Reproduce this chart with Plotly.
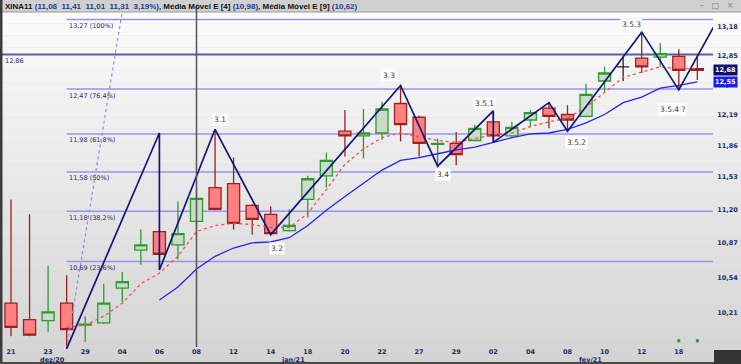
import math
import plotly.graph_objects as go

# ---------------- data ----------------
days = ["21", "22", "23", "28", "29", "30", "04", "05", "06", "07", "08", "11", "12", "13",
        "14", "15", "18", "19", "20", "21", "22", "26", "27", "28", "29", "01", "02", "03",
        "04", "05", "08", "09", "10", "11", "12", "17", "18", "19"]
opens = [10.30, 10.15, 10.14, 10.30, 10.10, 10.12, 10.44, 10.80, 10.98, 10.85, 11.08, 11.42, 11.46,
         11.24, 11.15, 10.99, 11.30, 11.54, 12.01, 11.96, 11.99, 12.31, 12.16, 11.87, 11.88, 11.91,
         12.11, 11.96, 12.13, 12.26, 12.19, 12.17, 12.56, 12.72, 12.82, 12.83, 12.84, 12.70]
highs = [11.30, 11.15, 10.65, 10.56, 10.18, 10.48, 10.59, 11.00, 10.99, 11.28, 11.41, 12.03, 11.73,
         11.25, 11.23, 11.20, 11.54, 11.78, 12.24, 12.25, 12.33, 12.51, 12.18, 11.93, 12.00, 12.08,
         12.23, 12.11, 12.24, 12.32, 12.29, 12.53, 12.72, 12.84, 13.12, 12.99, 12.92, 12.86]
lows = [10.00, 10.00, 10.04, 9.89, 9.95, 10.11, 10.31, 10.66, 10.75, 10.71, 11.01, 11.19, 11.00,
        10.95, 10.95, 10.98, 11.12, 11.42, 11.74, 11.72, 11.92, 11.90, 11.74, 11.64, 11.65, 11.90,
        11.89, 11.95, 12.05, 12.04, 12.03, 12.16, 12.44, 12.56, 12.65, 12.72, 12.46, 12.57]
closes = [10.08, 10.01, 10.22, 10.06, 10.11, 10.30, 10.50, 10.85, 10.76, 10.96, 11.31, 11.20, 11.06,
          11.10, 10.96, 11.04, 11.51, 11.70, 11.96, 11.99, 12.25, 12.08, 11.88, 11.88, 11.76, 12.04,
          11.96, 12.05, 12.21, 12.17, 12.13, 12.41, 12.65, 12.72, 12.72, 12.87, 12.68, 12.68]

mme4_start = 3
mme4 = [10.08, 10.10, 10.18, 10.30, 10.48, 10.58, 10.74, 10.98, 11.04, 11.06, 11.05, 11.02, 11.02,
        11.16, 11.40, 11.66, 11.82, 11.94, 11.99, 11.95, 11.91, 11.89, 11.93, 11.97, 11.99, 12.06,
        12.11, 12.15, 12.27, 12.43, 12.60, 12.66, 12.72, 12.70, 12.70]
mme9_start = 8
mme9 = [10.33, 10.45, 10.62, 10.74, 10.82, 10.87, 10.88, 10.92, 11.04, 11.19, 11.33, 11.46, 11.60,
        11.70, 11.73, 11.77, 11.81, 11.84, 11.89, 11.94, 11.98, 11.99, 12.03, 12.10, 12.19, 12.32,
        12.38, 12.48, 12.51, 12.55]

wave_x = [3, 8, 8, 11, 14, 21, 23, 26, 26, 29, 30, 34, 36, 38.5]
wave_y = [9.89, 11.99, 10.61, 12.03, 10.95, 12.51, 11.64, 12.23, 11.89, 12.32, 12.01, 13.12, 12.46, 13.43]
wave_labels = ["3.1", "3.2", "3.3", "3.4", "3.5.1", "3.5.2", "3.5.3", "3.5.4 ?"]
wave_label_vertex = [3, 4, 5, 6, 7, 10, 11, 12]

fib_trend_x = [3, 6.1]
fib_trend_y = [9.89, 13.50]
fib_levels = [13.27, 12.47, 11.98, 11.58, 11.18, 10.69]
fib_texts = ["13,27 (100%)", "12,47 (76,4%)", "11,98 (61,8%)", "11,58 (50%)", "11,18 (38,2%)", "10,69 (23,6%)"]
fib_start = 3
resistance = 12.86
cursor_idx = 10

ytick_vals = [10.21, 10.54, 10.87, 11.20, 11.53, 11.86, 12.19, 12.52, 12.85, 13.18]
months = ["dez/20", "jan/21", "fev/21"]
month_pos = [2, 15, 31]
signal_x = [36, 37]
signal_y = [9.96, 9.96]

# ---------------- helpers ----------------
def br(v):
    return f"{v:.2f}".replace(".", ",")

n = len(days)
idx = list(range(n))
W, H = 741, 364
L, R, T, B = 3, 28, 12, 6
pw, ph = W - L - R, H - T - B

def px(xp):
    return (xp - L) / pw

def py(yp):
    return (H - B - yp) / ph

NAVY_TXT = "#1c2a6a"
fig = go.Figure()

norm = [i for i in idx if opens[i] != closes[i]]
doji = [i for i in idx if opens[i] == closes[i]]
fig.add_trace(go.Candlestick(
    x=norm, open=[opens[i] for i in norm], high=[highs[i] for i in norm],
    low=[lows[i] for i in norm], close=[closes[i] for i in norm],
    increasing=dict(fillcolor="#c9dcc9", line=dict(color="#2f9a2f", width=1.3)),
    decreasing=dict(fillcolor="#ff8080", line=dict(color="#9c2222", width=1.3)),
    whiskerwidth=0, showlegend=False, hoverinfo="skip"))
fig.add_trace(go.Candlestick(
    x=doji, open=[opens[i] for i in doji], high=[highs[i] for i in doji],
    low=[lows[i] for i in doji], close=[closes[i] for i in doji],
    increasing=dict(fillcolor="#222222", line=dict(color="#222222", width=1.3)),
    decreasing=dict(fillcolor="#222222", line=dict(color="#222222", width=1.3)),
    whiskerwidth=0, showlegend=False, hoverinfo="skip"))

fig.add_trace(go.Scatter(x=list(range(mme4_start, mme4_start + len(mme4))), y=mme4, mode="lines",
                         line=dict(color="#ff4a4a", width=1.3, dash="dot"), showlegend=False, hoverinfo="skip"))
fig.add_trace(go.Scatter(x=list(range(mme9_start, mme9_start + len(mme9))), y=mme9, mode="lines",
                         line=dict(color="#2424f0", width=1.3), showlegend=False, hoverinfo="skip"))
fig.add_trace(go.Scatter(x=fib_trend_x, y=fib_trend_y, mode="lines",
                         line=dict(color="#8a8af0", width=1.2, dash="dot"), showlegend=False, hoverinfo="skip"))
fig.add_trace(go.Scatter(x=wave_x, y=wave_y, mode="lines",
                         line=dict(color="#14147a", width=1.7), showlegend=False, hoverinfo="skip"))
fig.add_trace(go.Scatter(x=signal_x, y=signal_y, mode="markers",
                         marker=dict(color="#2a9a2a", size=3, symbol="square"), showlegend=False, hoverinfo="skip"))

shapes = []
nb = 30
top_y, bot_y = 1.0, py(H)
for k in range(nb):
    t = k / (nb - 1)
    c = int(round(251 - t * (251 - 212)))
    y1 = top_y - (top_y - bot_y) * k / nb
    y0 = top_y - (top_y - bot_y) * (k + 1) / nb
    shapes.append(dict(type="rect", xref="paper", yref="paper", x0=px(0), x1=px(W), y0=y0, y1=y1,
                       fillcolor=f"rgb({c},{c},{c})", line=dict(width=0), layer="below"))
shapes.append(dict(type="rect", xref="paper", yref="paper", x0=px(0), x1=px(W), y0=1.0, y1=py(0),
                   fillcolor="#d0d0d0", line=dict(width=0), layer="below"))
shapes.append(dict(type="line", xref="paper", yref="paper", x0=px(0), x1=px(W), y0=1.0, y1=1.0,
                   line=dict(color="#9a9a9a", width=1), layer="below"))
shapes.append(dict(type="rect", xref="paper", yref="paper", x0=px(0), x1=px(2.5), y0=py(H), y1=py(0),
                   fillcolor="#3c3c3c", line=dict(width=0)))
shapes.append(dict(type="rect", xref="paper", yref="paper", x0=px(0), x1=px(W), y0=py(H), y1=py(H - 2),
                   fillcolor="#4a4a4a", line=dict(width=0)))
shapes.append(dict(type="rect", xref="paper", yref="paper", x0=px(714), x1=px(W), y0=py(H), y1=py(350),
                   fillcolor="#333333", line=dict(width=0)))
for lv in fib_levels:
    shapes.append(dict(type="line", xref="x", yref="y", x0=fib_start, x1=60, y0=lv, y1=lv,
                       line=dict(color="#9494ee", width=1.5), layer="below"))
shapes.append(dict(type="line", xref="paper", yref="y", x0=px(0), x1=1, y0=resistance, y1=resistance,
                   line=dict(color="#5c5ca8", width=2), layer="below"))
shapes.append(dict(type="line", xref="x", yref="paper", x0=cursor_idx, x1=cursor_idx, y0=py(347), y1=py(6),
                   line=dict(color="#555555", width=1.5)))

ann = []
blue = "#1f3a9c"
hdr = (f"<b>XINA11 <span style='color:{blue}'>({br(opens[cursor_idx])}  {br(highs[cursor_idx])}  "
       f"{br(lows[cursor_idx])}  {br(closes[cursor_idx])}  "
       f"{br((closes[cursor_idx] / closes[cursor_idx - 1] - 1) * 100)}%)</span>, Média Móvel E [4] "
       f"<span style='color:{blue}'>({br(mme4[cursor_idx - mme4_start])})</span>, Média Móvel E [9] "
       f"<span style='color:{blue}'>({br(mme9[cursor_idx - mme9_start])})</span></b>")
ann.append(dict(text=hdr, xref="paper", yref="paper", x=px(3), y=py(6), xanchor="left", yanchor="middle",
                showarrow=False, font=dict(family="Liberation Sans", size=8, color="#111111")))
ann.append(dict(text="–   □   ×", xref="paper", yref="paper", x=px(736), y=py(5.5), xanchor="right",
                yanchor="middle", showarrow=False, font=dict(family="DejaVu Sans", size=8, color="#808080")))
for lv, tx in zip(fib_levels, fib_texts):
    ann.append(dict(text=tx, xref="x", yref="y", x=fib_start, y=math.log10(lv), xanchor="left",
                    yanchor="top", yshift=-0.5, showarrow=False,
                    font=dict(family="DejaVu Sans", size=6.5, color="#2a2a5e")))
ann.append(dict(text=br(resistance), xref="paper", yref="y", x=px(3), y=math.log10(resistance),
                xanchor="left", yanchor="top", yshift=-0.5, showarrow=False,
                font=dict(family="DejaVu Sans", size=6.5, color="#2a2a5e")))
offs = [(5, 3, "bottom"), (6, -7, "top"), (-12, 3, "bottom"), (5, -2, "top"),
        (-9, 1, "bottom"), (9, -5, "top"), (-10, 1, "bottom"), (-6, -13, "top")]
for lab, vi, (xs, ys, ya) in zip(wave_labels, wave_label_vertex, offs):
    ann.append(dict(text=lab, xref="x", yref="y", x=wave_x[vi], y=math.log10(wave_y[vi]),
                    xanchor="center", yanchor=ya, xshift=xs, yshift=ys, showarrow=False,
                    bgcolor="#ffffff", borderpad=1,
                    font=dict(family="DejaVu Sans", size=7.5, color="#404040")))
for m, p in zip(months, month_pos):
    ann.append(dict(text=f"<b>{m}</b>", xref="x", yref="paper", x=p, y=py(359.5), xshift=4,
                    xanchor="center", yanchor="middle", showarrow=False,
                    font=dict(family="DejaVu Sans", size=6.5, color=NAVY_TXT)))
ann.append(dict(text=f"<b>{br(closes[-1])}</b>", xref="paper", yref="y", x=1, y=math.log10(closes[-1]),
                xanchor="left", yanchor="middle", showarrow=False, bgcolor="#0c0c6c", borderpad=1,
                font=dict(family="DejaVu Sans", size=6.5, color="#ffffff")))
ann.append(dict(text=f"<b>{br(mme9[-1])}</b>", xref="paper", yref="y", x=1, y=math.log10(mme9[-1]),
                xanchor="left", yanchor="middle", showarrow=False, bgcolor="#1c1cf0", borderpad=1,
                font=dict(family="DejaVu Sans", size=6.5, color="#ffffff")))

tick_idx = list(range(0, n, 2))
fig.update_layout(
    width=W, height=H, margin=dict(l=L, r=R, t=T, b=B),
    paper_bgcolor="#d8d8d8", plot_bgcolor="rgba(0,0,0,0)",
    boxgap=0.35, boxgroupgap=0,
    shapes=shapes, annotations=ann, showlegend=False,
    xaxis=dict(range=[(L - 11) / 18.55, (713 - 11) / 18.55], rangeslider=dict(visible=False),
               tickvals=tick_idx, ticktext=[days[i] for i in tick_idx], ticklabelposition="inside",
               ticks="", showgrid=False, zeroline=False, showline=False,
               tickfont=dict(family="DejaVu Sans", size=6.5, color=NAVY_TXT, weight="bold")),
    yaxis=dict(type="log", range=[math.log10(9.808), math.log10(13.358)], side="right",
               tickvals=ytick_vals, ticktext=[br(v) for v in ytick_vals], ticks="outside", ticklen=2,
               tickcolor="rgba(0,0,0,0)", showgrid=False, zeroline=False, showline=False,
               tickfont=dict(family="DejaVu Sans", size=6.5, color=NAVY_TXT, weight="bold")),
)
fig.write_html("out.html", config={"displayModeBar": False},
               post_script="document.body.style.margin='0';document.body.style.overflow='hidden';")
